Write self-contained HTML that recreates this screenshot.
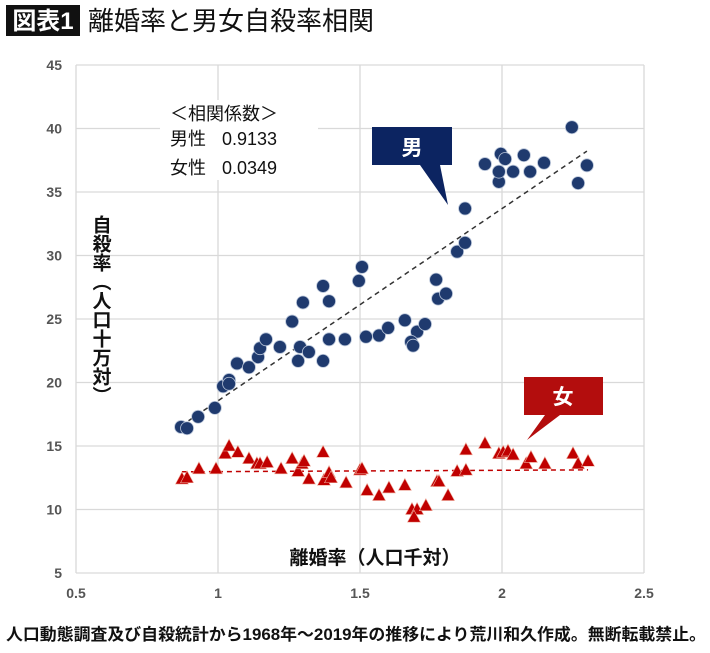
<!DOCTYPE html>
<html><head><meta charset="utf-8">
<style>
body{margin:0;background:#fff;width:710px;height:648px;overflow:hidden;font-family:"Liberation Sans","Noto Sans CJK JP",sans-serif;}
</style></head>
<body>
<svg id="chart" width="710" height="648" viewBox="0 0 710 648" xmlns="http://www.w3.org/2000/svg" style="font-family:'Liberation Sans','Noto Sans CJK JP',sans-serif">
  <rect x="6" y="5" width="74" height="31" fill="#111"/>
  <text x="43" y="29" fill="#fff" font-size="24" font-weight="bold" text-anchor="middle">図表1</text>
  <text x="88" y="30" fill="#111" font-size="26">離婚率と男女自殺率相関</text>
  <g id="grid"></g>
  <g id="axes"></g>
  <g id="trend"></g>
  <g id="marks"></g>
  <rect x="160" y="100" width="158" height="80" fill="#fff"/>
  <text x="170" y="120" font-size="18" fill="#111">＜相関係数＞</text>
  <text x="170" y="145" font-size="18" fill="#111">男性<tspan x="222">0.9133</tspan></text>
  <text x="170" y="174" font-size="18" fill="#111">女性<tspan x="222">0.0349</tspan></text>
  <g>
    <polygon points="372,127 452,127 452,165 440,165 448,205 420,165 372,165" fill="#0c2461"/>
    <text x="412" y="155" fill="#fff" font-size="21" font-weight="bold" text-anchor="middle">男</text>
  </g>
  <g>
    <polygon points="524,377 603,377 603,415 560,415 527,440 545,415 524,415" fill="#b30d0d"/>
    <text x="563" y="404" fill="#fff" font-size="21" font-weight="bold" text-anchor="middle">女</text>
  </g>
  <text x="375" y="564" font-size="19" font-weight="bold" fill="#111" text-anchor="middle">離婚率（人口千対）</text>
  <text x="100" y="215" font-size="19" font-weight="bold" fill="#111" writing-mode="tb" glyph-orientation-vertical="0">自殺率（人口十万対）</text>
  <text x="6" y="640" font-size="16.5" font-weight="bold" fill="#111" textLength="700" lengthAdjust="spacingAndGlyphs">人口動態調査及び自殺統計から1968年～2019年の推移により荒川和久作成。無断転載禁止。</text>
</svg>
<script>
const xTicks=[0.5,1,1.5,2,2.5];
const xTickLabels=["0.5","1","1.5","2","2.5"];
const yTicks=[5,10,15,20,25,30,35,40,45];
const yTickLabels=["5","10","15","20","25","30","35","40","45"];
const maleX=[0.870,0.891,0.930,0.989,1.018,1.039,1.039,1.067,1.109,1.141,1.148,1.169,1.218,1.261,1.299,1.282,1.289,1.320,1.370,1.391,1.370,1.391,1.447,1.496,1.507,1.521,1.567,1.599,1.658,1.701,1.680,1.687,1.729,1.768,1.775,1.803,1.842,1.870,1.870,1.940,1.989,1.989,1.996,2.011,2.039,2.077,2.099,2.148,2.246,2.299,2.268];
const maleY=[16.5,16.4,17.3,18.0,19.7,20.2,19.9,21.5,21.2,22.0,22.7,23.4,22.8,24.8,26.3,21.7,22.8,22.4,27.6,26.4,21.7,23.4,23.4,28.0,29.1,23.6,23.7,24.3,24.9,24.0,23.2,22.9,24.6,28.1,26.6,27.0,30.3,31.0,33.7,37.2,35.8,36.6,38.0,37.6,36.6,37.9,36.6,37.3,40.1,37.1,35.7];
const femaleX=[0.873,0.891,0.933,0.993,1.025,1.039,1.070,1.109,1.137,1.148,1.173,1.222,1.261,1.282,1.296,1.303,1.320,1.370,1.373,1.391,1.398,1.451,1.500,1.507,1.525,1.567,1.602,1.658,1.683,1.701,1.690,1.732,1.771,1.778,1.810,1.842,1.873,1.873,1.940,1.989,2.004,2.021,2.039,2.085,2.102,2.151,2.250,2.268,2.303];
const femaleY=[12.4,12.5,13.2,13.2,14.4,15.0,14.5,14.0,13.6,13.6,13.7,13.2,14.0,13.0,13.6,13.8,12.4,14.5,12.3,12.9,12.5,12.1,13.1,13.2,11.5,11.1,11.7,11.9,10.0,10.0,9.4,10.3,12.2,12.2,11.1,13.0,13.1,14.7,15.2,14.4,14.5,14.6,14.3,13.6,14.1,13.6,14.4,13.6,13.8];
const NS='http://www.w3.org/2000/svg';
const X0=76,X1=644,Y0=573,Y1=65;
function sx(v){return X0+(v-0.5)/(2.5-0.5)*(X1-X0);}
function sy(v){return Y0-(v-5)/(45-5)*(Y0-Y1);}
function mk(tag,attrs,parent){const e=document.createElementNS(NS,tag);for(const k in attrs)e.setAttribute(k,attrs[k]);parent.appendChild(e);return e;}
const grid=document.getElementById('grid'),axes=document.getElementById('axes'),trend=document.getElementById('trend'),marks=document.getElementById('marks');
yTicks.forEach((t,i)=>{
  const l=mk('line',{x1:X0,x2:X1,y1:sy(t),y2:sy(t),stroke:'#d9d9d9','stroke-width':1.3},grid);
  
  
  const tx=mk('text',{x:62,y:sy(t)+5,'font-size':14,'font-weight':'bold',fill:'#555','text-anchor':'end'},axes);
  tx.textContent=yTickLabels[i];
  
  
});
xTicks.forEach((t,i)=>{
  const l=mk('line',{x1:sx(t),x2:sx(t),y1:Y1,y2:Y0,stroke:'#d9d9d9','stroke-width':1.3},grid);
  
  
  const tx=mk('text',{x:sx(t),y:598,'font-size':14,'font-weight':'bold',fill:'#555','text-anchor':'middle'},axes);
  tx.textContent=xTickLabels[i];
  
  
});
function fit(xs,ys){const n=xs.length;let mx=0,my=0;for(let i=0;i<n;i++){mx+=xs[i];my+=ys[i];}mx/=n;my/=n;let a=0,b=0;for(let i=0;i<n;i++){a+=(xs[i]-mx)*(ys[i]-my);b+=(xs[i]-mx)**2;}const s=a/b;return [s,my-s*mx];}
function drawTrend(xs,ys,color,name){
  const [s,c]=fit(xs,ys);const a=Math.min(...xs),b=Math.max(...xs);
  const l=mk('line',{x1:sx(a),y1:sy(s*a+c),x2:sx(b),y2:sy(s*b+c),stroke:color,'stroke-width':1.5,'stroke-dasharray':'5,4'},trend);
  
  
}
drawTrend(maleX,maleY,'#333','male-trendline');
drawTrend(femaleX,femaleY,'#c00000','female-trendline');
maleX.forEach((x,i)=>{
  const c=mk('circle',{cx:sx(x),cy:sy(maleY[i]),r:6.5,fill:'#1f3a6e',stroke:'#b8c4d8','stroke-width':0.8},marks);
  
  
});
femaleX.forEach((x,i)=>{
  const px=sx(x),py=sy(femaleY[i]);
  const p=mk('polygon',{points:`${px},${py-7} ${px+6.5},${py+5} ${px-6.5},${py+5}`,fill:'#c00000',stroke:'#f0b0a0','stroke-width':0.6},marks);
  
  
});
</script>
</body></html>
